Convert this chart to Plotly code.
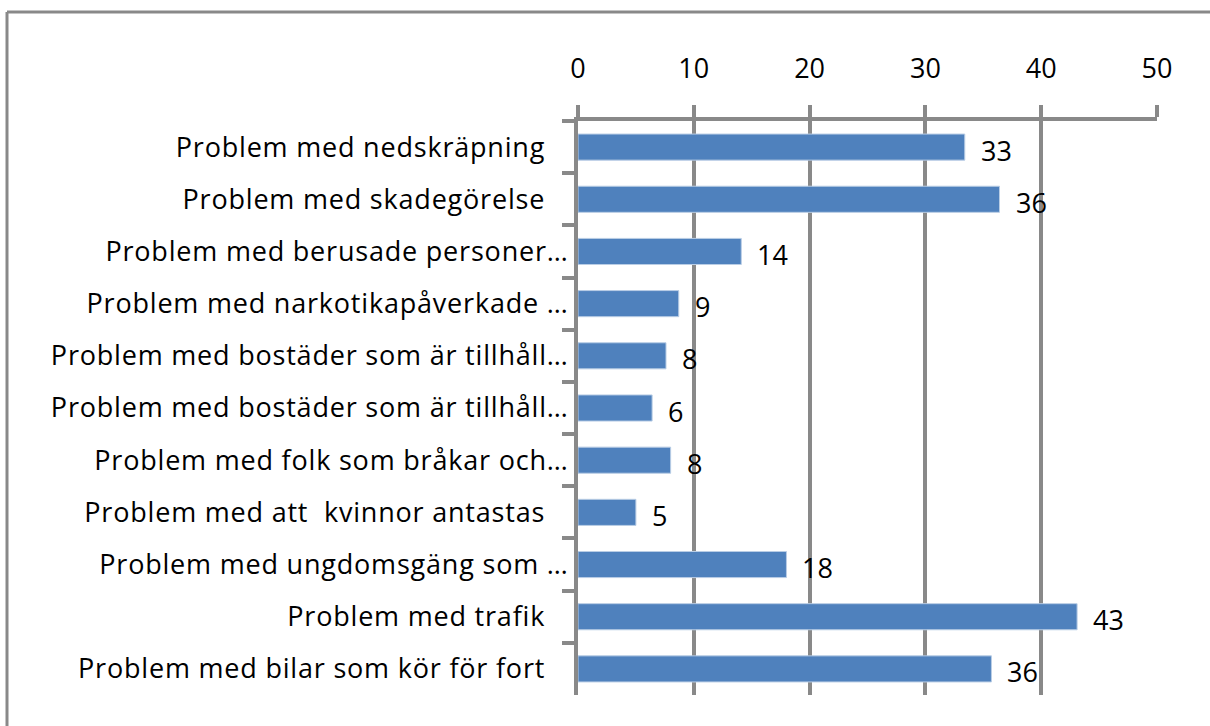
import plotly.graph_objects as go

PAD = "\u00a0\u00a0\u00a0"
categories = [
    "Problem med nedskräpning" + PAD,
    "Problem med skadegörelse" + PAD,
    "Problem med berusade personer…",
    "Problem med narkotikapåverkade …",
    "Problem med bostäder som är tillhåll…",
    "Problem med bostäder som är tillhåll…\u200b",
    "Problem med folk som bråkar och…",
    "Problem med att  kvinnor antastas" + PAD,
    "Problem med ungdomsgäng som …",
    "Problem med trafik" + PAD,
    "Problem med bilar som kör för fort" + PAD,
]
values = [33.4, 36.4, 14.1, 8.7, 7.6, 6.4, 8.0, 5.0, 18.0, 43.1, 35.7]
x_ticks = [0, 10, 20, 30, 40, 50]

GRAY = "#898989"
FONT = "Open Sans"

fig = go.Figure()
fig.add_trace(go.Bar(
    y=categories, x=values, orientation="h",
    marker=dict(color="#4F81BD", line=dict(color="#B9CDE5", width=1)),
    hoverinfo="skip",
))

for c, v in zip(categories, values):
    fig.add_annotation(x=v, y=c, text=str(round(v)), showarrow=False,
                       xanchor="left", xshift=14, yshift=-3,
                       font=dict(family=FONT, size=27, color="#000000"))

fig.update_layout(
    width=1210, height=726,
    margin=dict(l=578, r=53, t=121, b=31),
    paper_bgcolor="white", plot_bgcolor="white",
    bargap=0.5, showlegend=False,
    font=dict(family=FONT, size=27, color="#000000"),
    xaxis=dict(side="top", range=[0, 50], tickvals=x_ticks,
               showgrid=True, gridcolor=GRAY, gridwidth=4,
               showline=True, linecolor=GRAY, linewidth=4,
               ticks="outside", ticklen=12, tickwidth=4, tickcolor=GRAY,
               ticklabelstandoff=16, zeroline=False,
               tickfont=dict(family=FONT, size=27)),
    yaxis=dict(autorange="reversed", type="category",
               showline=True, linecolor=GRAY, linewidth=4,
               ticks="outside", ticklen=12, tickwidth=4, tickcolor=GRAY,
               tickson="boundaries", showgrid=False,
               ticklabelstandoff=0,
               tickfont=dict(family=FONT, size=27)),
    shapes=[
        dict(type="line", xref="paper", yref="paper",
             x0=(7 - 578) / 579, x1=1.2, y0=(695 - 12) / 574, y1=(695 - 12) / 574,
             line=dict(color=GRAY, width=3)),
        dict(type="line", xref="paper", yref="paper",
             x0=(7 - 578) / 579, x1=(7 - 578) / 579, y0=(695 - 12) / 574, y1=-0.1,
             line=dict(color=GRAY, width=3)),
    ],
)

post = """
document.body.style.margin = '0';
var st = document.createElement('style');
st.textContent = '.ytick text { letter-spacing: 0.8px; }';
document.head.appendChild(st);
"""
fig.write_html("out.html", post_script=post, config={"displayModeBar": False})
